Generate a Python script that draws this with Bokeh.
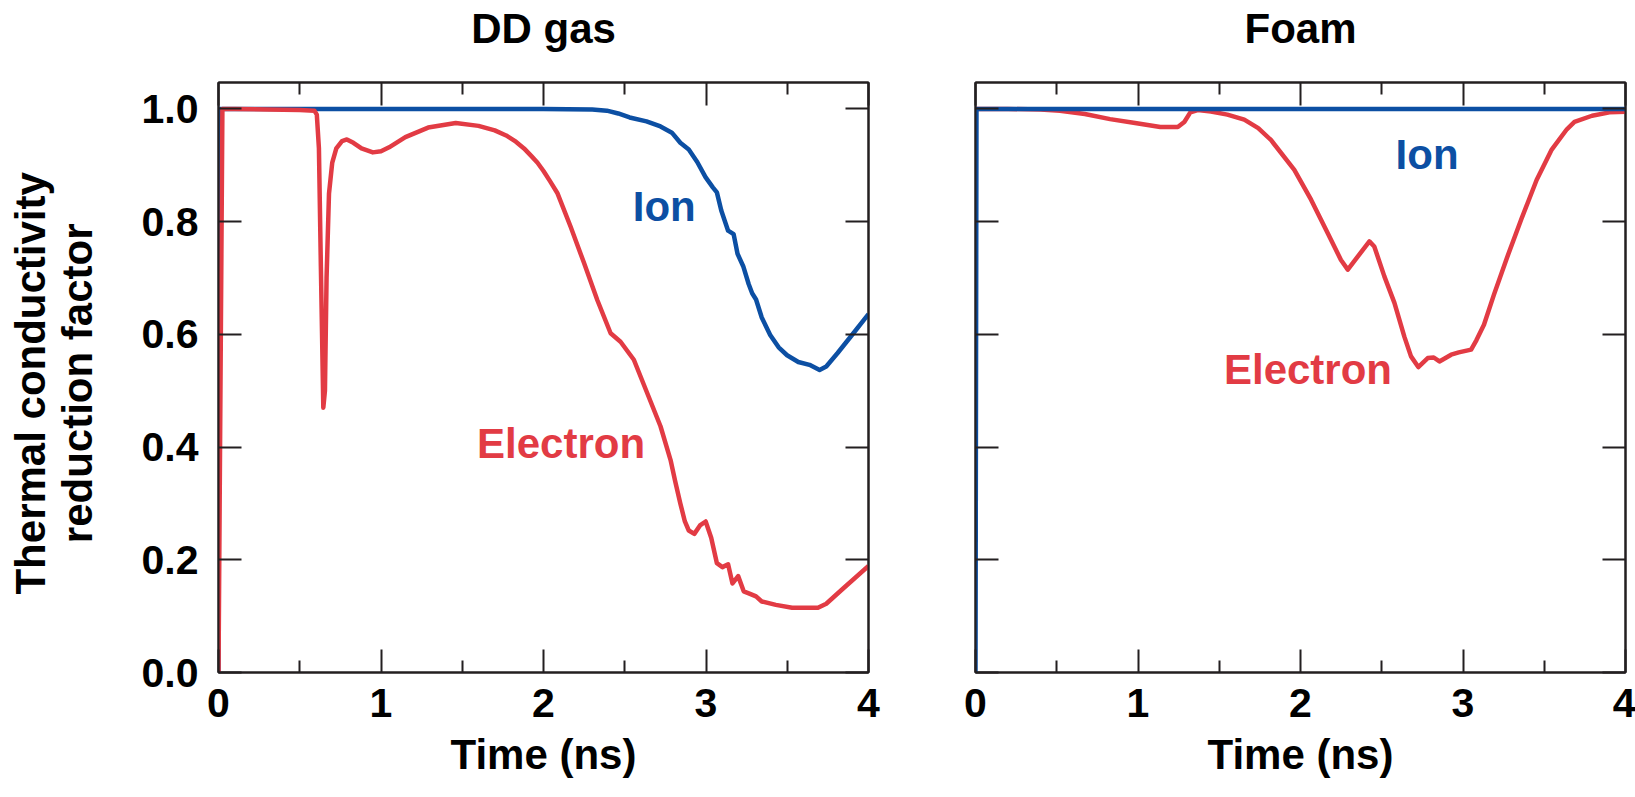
from bokeh.plotting import figure
from bokeh.models import Range1d, LinearAxis, FixedTicker, PrintfTickFormatter, CustomJSTickFormatter
from bokeh.layouts import row
from bokeh.core.properties import value
from bokeh.embed import file_html
from bokeh.resources import INLINE

# ---------------- data ----------------
x_ticks = [0, 1, 2, 3, 4]
x_minor_ticks = [0.5, 1.5, 2.5, 3.5]
y_ticks = [0.0, 0.2, 0.4, 0.6, 0.8, 1.0]

panel_titles = ["DD gas", "Foam"]
x_title = "Time (ns)"
y_title_lines = ["Thermal conductivity", "reduction factor"]

dd_ion_t = [0.0, 0.005, 0.5, 1.0, 1.5, 2.0, 2.3, 2.39, 2.46, 2.53, 2.634, 2.72, 2.79, 2.842, 2.894,
            2.946, 2.997, 3.042, 3.067, 3.094, 3.136, 3.17, 3.194, 3.229, 3.263, 3.284, 3.308, 3.343,
            3.395, 3.447, 3.499, 3.568, 3.637, 3.699, 3.74, 3.81, 3.896, 4.0]
dd_ion = [0.0, 1.0, 1.0, 1.0, 1.0, 1.0, 0.999, 0.997, 0.992, 0.985, 0.978, 0.969, 0.958, 0.94, 0.928,
          0.906, 0.879, 0.861, 0.852, 0.82, 0.784, 0.778, 0.743, 0.721, 0.689, 0.673, 0.662, 0.63,
          0.599, 0.577, 0.563, 0.551, 0.546, 0.537, 0.543, 0.567, 0.598, 0.636]

dd_el_t = [0.0, 0.024, 0.1, 0.3, 0.5, 0.59, 0.605, 0.618, 0.63, 0.645, 0.655, 0.665, 0.68, 0.70, 0.725,
           0.76, 0.79, 0.83, 0.88, 0.95, 1.0, 1.05, 1.15, 1.29, 1.46, 1.6, 1.70, 1.77, 1.83, 1.88,
           1.93, 1.962, 2.0, 2.04, 2.085, 2.167, 2.249, 2.331, 2.413, 2.474, 2.556, 2.638, 2.72, 2.782,
           2.81, 2.842, 2.87, 2.894, 2.928, 2.963, 2.998, 3.032, 3.067, 3.101, 3.136, 3.163, 3.198,
           3.232, 3.267, 3.308, 3.343, 3.43, 3.53, 3.689, 3.74, 3.844, 4.0]
dd_el = [0.0, 1.0, 1.0, 0.999, 0.998, 0.997, 0.99, 0.93, 0.72, 0.47, 0.5, 0.70, 0.85, 0.905, 0.93,
         0.943, 0.946, 0.94, 0.93, 0.923, 0.925, 0.932, 0.95, 0.967, 0.975, 0.970, 0.962, 0.953, 0.942,
         0.93, 0.915, 0.905, 0.89, 0.872, 0.851, 0.791, 0.727, 0.661, 0.602, 0.587, 0.555, 0.496,
         0.437, 0.377, 0.34, 0.30, 0.268, 0.252, 0.246, 0.261, 0.268, 0.239, 0.194, 0.187, 0.192,
         0.158, 0.171, 0.144, 0.14, 0.135, 0.126, 0.12, 0.115, 0.115, 0.122, 0.149, 0.189]

foam_ion_t = [0.0, 0.006, 1.0, 2.0, 3.0, 4.0]
foam_ion = [0.0, 1.0, 1.0, 1.0, 1.0, 1.0]

foam_el_t = [0.0, 0.2, 0.4, 0.52, 0.673, 0.828, 0.982, 1.137, 1.245, 1.285, 1.322, 1.368, 1.449, 1.55,
             1.654, 1.74, 1.818, 1.962, 2.065, 2.167, 2.249, 2.291, 2.352, 2.424, 2.454, 2.516, 2.578,
             2.639, 2.68, 2.725, 2.783, 2.82, 2.855, 2.927, 2.974, 3.05, 3.083, 3.129, 3.191, 3.268,
             3.361, 3.453, 3.546, 3.639, 3.686, 3.794, 3.901, 4.0]
foam_el = [1.0, 1.0, 0.999, 0.997, 0.991, 0.982, 0.975, 0.968, 0.968, 0.977, 0.994, 0.998, 0.9955, 0.99,
           0.981, 0.966, 0.945, 0.892, 0.839, 0.78, 0.732, 0.715, 0.738, 0.765, 0.756, 0.703, 0.656,
           0.596, 0.561, 0.542, 0.558, 0.559, 0.552, 0.564, 0.568, 0.573, 0.59, 0.617, 0.671, 0.734,
           0.806, 0.874, 0.928, 0.964, 0.977, 0.988, 0.994, 0.995]

series_labels = ["Ion", "Electron"]
dd_label_x = [2.549, 1.591]
dd_label_y = [0.827, 0.406]
foam_label_x = [2.585, 1.529]
foam_label_y = [0.919, 0.537]

# ---------------- style ----------------
FONT = "Liberation Sans"
INK = "#231f20"
RED = "#e23b44"
BLUE = "#0c4fa3"
LABEL_COLORS = [BLUE, RED]
FRAME_W, FRAME_H = 650, 590
TOP_B, BOT_B = 82, 123
blank = CustomJSTickFormatter(code="return ''")


def style_axis(ax, xaxis):
    ax.axis_line_color = INK
    ax.axis_line_width = 2
    ax.major_tick_line_color = INK
    ax.major_tick_line_width = 2
    ax.major_tick_in = 23
    ax.major_tick_out = 0
    ax.minor_tick_line_color = INK
    ax.minor_tick_line_width = 2
    ax.minor_tick_in = 12
    ax.minor_tick_out = 0
    ax.major_label_text_font = FONT
    ax.major_label_text_font_style = "bold"
    ax.major_label_text_font_size = "41px"
    ax.major_label_text_color = "black"
    ax.axis_label_text_font = FONT
    ax.axis_label_text_font_style = "bold"
    ax.axis_label_text_font_size = "42px"
    ax.axis_label_text_color = "black"
    ax.axis_label_text_line_height = 1.0
    if xaxis:
        ax.ticker = FixedTicker(ticks=x_ticks, minor_ticks=x_minor_ticks)
    else:
        ax.ticker = FixedTicker(ticks=y_ticks, minor_ticks=[])


def make_panel(title, b_left, b_right, show_y):
    p = figure(width=b_left + FRAME_W + b_right, height=TOP_B + FRAME_H + BOT_B,
               x_range=Range1d(0, 4), y_range=Range1d(0, 1.047),
               output_backend="svg", toolbar_location=None,
               min_border_left=b_left, min_border_right=b_right,
               min_border_top=TOP_B, min_border_bottom=BOT_B)
    p.xgrid.visible = False
    p.ygrid.visible = False
    p.outline_line_color = INK
    p.outline_line_width = 2
    p.background_fill_color = "white"
    p.border_fill_color = "white"

    xb = p.below[0]
    style_axis(xb, True)
    xb.major_label_standoff = 16
    xb.axis_label = x_title
    xb.axis_label_standoff = 11

    yl = p.left[0]
    style_axis(yl, False)
    if show_y:
        yl.formatter = PrintfTickFormatter(format="%.1f")
        yl.major_label_standoff = 20
        yl.axis_label = "\n".join(s + " " for s in y_title_lines)
        yl.axis_label_standoff = 38
    else:
        yl.formatter = blank
        yl.major_label_standoff = 0

    top = LinearAxis(formatter=blank)
    style_axis(top, True)
    top.major_label_standoff = 0
    top.axis_label = title
    top.axis_label_standoff = 31
    p.add_layout(top, "above")

    right = LinearAxis(formatter=blank)
    style_axis(right, False)
    right.major_label_standoff = 0
    p.add_layout(right, "right")
    return p


p1 = make_panel(panel_titles[0], 218, 20, True)
p1.line(dd_ion_t, dd_ion, line_color=BLUE, line_width=4.5, line_join="round")
p1.line(dd_el_t, dd_el, line_color=RED, line_width=4.5, line_join="round")
p1.text(x=dd_label_x, y=dd_label_y, text=series_labels, text_color=LABEL_COLORS,
        text_font=value(FONT), text_font_style="bold", text_font_size="42px",
        text_baseline="alphabetic", text_align="left")

p2 = make_panel(panel_titles[1], 87, 10, False)
p2.line(foam_el_t, foam_el, line_color=RED, line_width=4.5, line_join="round")
p2.line(foam_ion_t, foam_ion, line_color=BLUE, line_width=4.5, line_join="round")
p2.text(x=foam_label_x, y=foam_label_y, text=series_labels, text_color=LABEL_COLORS,
        text_font=value(FONT), text_font_style="bold", text_font_size="42px",
        text_baseline="alphabetic", text_align="left")

layout = row(p1, p2)
open("out.html", "w").write(file_html(layout, INLINE))
